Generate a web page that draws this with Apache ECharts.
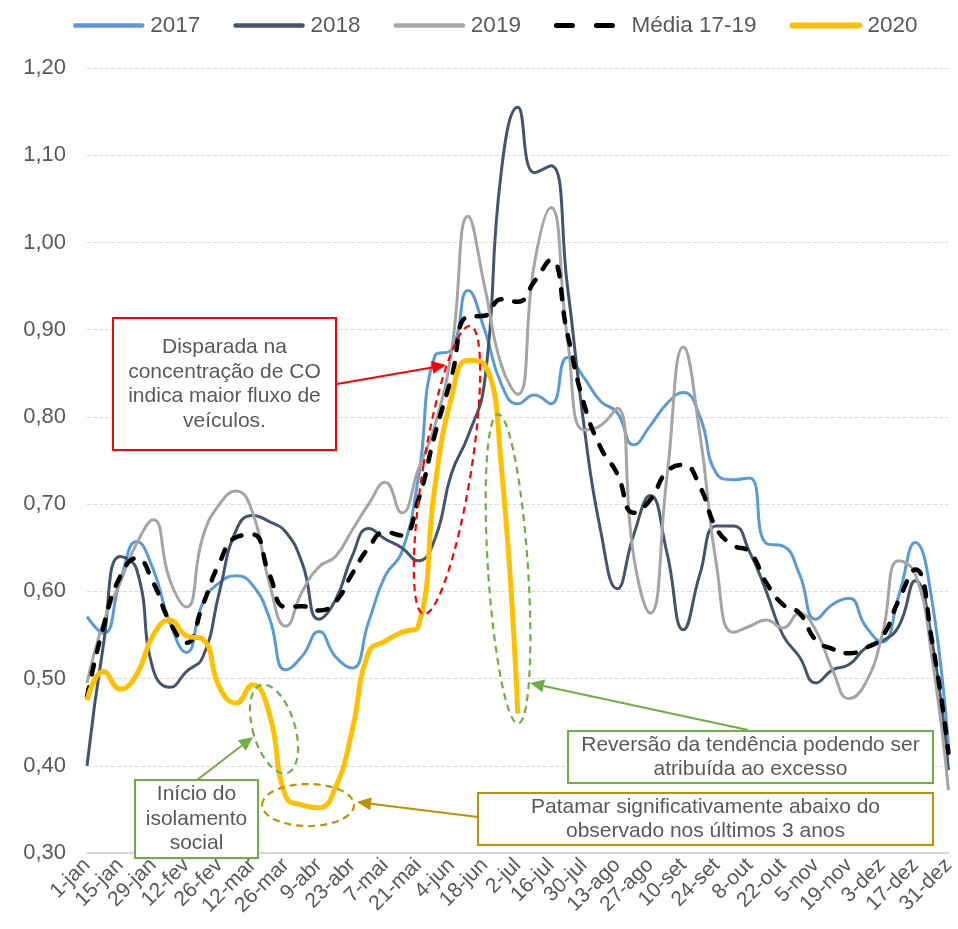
<!DOCTYPE html>
<html>
<head>
<meta charset="utf-8">
<script src="https://cdn.jsdelivr.net/npm/echarts@6/dist/echarts.min.js"></script>
<style>
html,body{margin:0;padding:0;background:#fff;}
#chart{width:958px;height:929px;}
</style>
</head>
<body>
<div id="chart"></div>
<script>
// ---------- data ----------
const categories = ['1-jan','8-jan','15-jan','22-jan','29-jan','5-fev','12-fev','19-fev','26-fev','5-mar','12-mar','19-mar','26-mar','2-abr','9-abr','16-abr','23-abr','30-abr','7-mai','14-mai','21-mai','28-mai','4-jun','11-jun','18-jun','25-jun','2-jul','9-jul','16-jul','23-jul','30-jul','6-ago','13-ago','20-ago','27-ago','3-set','10-set','17-set','24-set','1-out','8-out','15-out','22-out','29-out','5-nov','12-nov','19-nov','26-nov','3-dez','10-dez','17-dez','24-dez','31-dez'];

const s2017 = [0.571,0.552,0.612,0.657,0.625,0.564,0.530,0.587,0.610,0.618,
               0.607,0.570,0.510,0.526,0.554,0.525,0.512,0.565,0.618,0.645,
               0.730,0.870,0.877,0.945,0.900,0.838,0.815,0.825,0.815,0.868,
               0.845,0.818,0.805,0.768,0.790,0.815,0.828,0.800,0.735,0.728,
               0.730,0.655,0.652,0.620,0.568,0.585,0.592,0.560,0.542,0.595,
               0.656,0.590,0.420];
const s2018 = [0.400,0.540,0.640,0.625,0.510,0.490,0.508,0.525,0.600,0.670,
               0.687,0.680,0.668,0.632,0.568,0.590,0.640,0.672,0.660,0.650,
               0.635,0.660,0.735,0.778,0.840,1.080,1.155,1.080,1.088,0.950,
               0.790,0.670,0.603,0.665,0.710,0.645,0.556,0.620,0.675,0.675,
               0.645,0.600,0.550,0.525,0.495,0.510,0.516,0.535,0.543,0.560,
               0.612,0.544,0.395];
const s2019 = [0.495,0.565,0.610,0.655,0.682,0.613,0.582,0.663,0.700,0.715,
               0.690,0.610,0.560,0.600,0.628,0.640,0.670,0.700,0.725,0.690,
               0.740,0.790,0.875,1.030,0.950,0.860,0.826,0.975,1.040,0.890,
               0.785,0.790,0.810,0.640,0.575,0.730,0.880,0.780,0.630,0.553,
               0.560,0.567,0.558,0.575,0.555,0.510,0.477,0.495,0.550,0.635,
               0.620,0.525,0.372];
const sMedia = [0.479,0.560,0.617,0.638,0.610,0.565,0.541,0.585,0.633,0.662,
                0.665,0.620,0.582,0.583,0.578,0.588,0.620,0.650,0.668,0.664,
                0.705,0.780,0.845,0.915,0.916,0.935,0.932,0.955,0.980,0.895,
                0.815,0.765,0.735,0.690,0.705,0.737,0.745,0.720,0.672,0.653,
                0.645,0.610,0.585,0.575,0.544,0.534,0.529,0.535,0.548,0.590,
                0.625,0.544,0.415];
const s2020 = [0.475,0.508,0.488,0.505,0.550,0.567,0.549,0.545,0.490,0.472,
               0.493,0.460,0.365,0.355,0.352,0.375,0.440,0.530,0.543,0.553,
               0.560,0.720,0.822,0.865,0.860,0.745,0.460];

const seriesNames = ['2017','2018','2019','Média 17-19','2020'];
const yTicks = {min:0.3, max:1.2, interval:0.1};

// ---------- styles ----------
const FONT = '"Liberation Sans", Arial, sans-serif';
const TXT = '#595959';
const COLORS = ['#5B9BD5','#44546A','#A5A5A5','#000000','#FFC000'];

function arrow(x1,y1,x2,y2,color){
  const a = Math.atan2(y2-y1,x2-x1), L=14, W=6.5;
  const bx = x2 - L*Math.cos(a), by = y2 - L*Math.sin(a);
  return [
    {type:'line', shape:{x1:x1,y1:y1,x2:bx,y2:by}, style:{stroke:color,lineWidth:2}, z:50},
    {type:'polygon', shape:{points:[[x2,y2],[bx+W*Math.sin(a),by-W*Math.cos(a)],[bx-W*Math.sin(a),by+W*Math.cos(a)]]}, style:{fill:color}, z:50}
  ];
}
function box(x,y,w,h,color,text){
  return [
    {type:'rect', shape:{x:x,y:y,width:w,height:h}, style:{fill:'#fff',stroke:color,lineWidth:2}, z:60},
    {type:'text', x:x+w/2, y:y+h/2, z:61,
     style:{text:text, font:'21px '+FONT, fill:TXT, align:'center', verticalAlign:'middle',
            textAlign:'center', textVerticalAlign:'middle', lineHeight:24.5}}
  ];
}
function ell(cx,cy,rx,ry,rot,color){
  return {type:'ellipse', x:cx, y:cy, rotation:rot, shape:{cx:0,cy:0,rx:rx,ry:ry},
          style:{fill:null, stroke:color, lineWidth:2.2, lineDash:[7,5]}, z:40};
}

const RED='#FF0000', GREEN='#70AD47', GOLD='#BF9000';
const graphics = [].concat(
  [ell(447,470,24,146,-0.16,RED)],
  arrow(337,384,446,365,RED),
  box(113,318,223,132,RED,'Disparada na\nconcentração de CO\nindica maior fluxo de\nveículos.'),
  [ell(274,729,21,46,0.29,GREEN)],
  arrow(197,780,253,737,GREEN),
  box(135,780,123,78,GREEN,'Início do\nisolamento\nsocial'),
  [ell(308,805,46,21,0,GOLD)],
  arrow(478,817,357,802,GOLD),
  box(478,793,455,52,GOLD,'Patamar significativamente abaixo do\nobservado nos últimos 3 anos'),
  [ell(508,569,20,155,0.065,GREEN)],
  arrow(748,730,530,683,GREEN),
  box(568,731,365,52,GREEN,'Reversão da tendência podendo ser\natribuída ao excesso')
);

const legendData = seriesNames.map((n,i)=>({
  name:n,
  itemStyle:{opacity:0},
  lineStyle: i===3 ? {color:COLORS[i], width:5, type:[16,24], cap:'round'}
                   : {color:COLORS[i], width: i===4 ? 6 : 4.5, cap:'round', type:'solid'}
}));

const chart = echarts.init(document.getElementById('chart'), null, {renderer:'canvas'});
const lineBase = {type:'line', smooth:0.5, symbol:'none', showSymbol:false, connectNulls:false};
chart.setOption({
  animation:false,
  backgroundColor:'#fff',
  textStyle:{fontFamily:FONT},
  legend:{
    top:9, left:68, itemWidth:67, itemHeight:2, itemGap:33,
    textStyle:{fontSize:22.5, color:TXT, fontFamily:FONT, padding:[0,0,0,3]},
    data:legendData
  },
  grid:{left:87, right:8, top:68, bottom:76, containLabel:false},
  xAxis:{
    type:'category', data:categories, boundaryGap:false,
    axisLine:{lineStyle:{color:'#D0D0D0', width:1.5}},
    axisTick:{show:false},
    axisLabel:{interval:1, rotate:45, color:TXT, fontSize:21, fontFamily:FONT, margin:9},
    splitLine:{show:false}
  },
  yAxis:{
    type:'value', min:yTicks.min, max:yTicks.max, interval:yTicks.interval,
    axisLine:{show:false}, axisTick:{show:false},
    axisLabel:{color:TXT, fontSize:22, fontFamily:FONT, margin:21,
      formatter:v=>v.toFixed(2).replace('.',',')},
    splitLine:{lineStyle:{color:'#DDDDDD', width:1, type:[4,2]}}
  },
  series:[
    Object.assign({}, lineBase, {name:seriesNames[0], data:s2017, lineStyle:{color:COLORS[0], width:3}, itemStyle:{color:COLORS[0]}, z:2}),
    Object.assign({}, lineBase, {name:seriesNames[1], data:s2018, lineStyle:{color:COLORS[1], width:3}, itemStyle:{color:COLORS[1]}, z:2}),
    Object.assign({}, lineBase, {name:seriesNames[2], data:s2019, lineStyle:{color:COLORS[2], width:3}, itemStyle:{color:COLORS[2]}, z:2}),
    Object.assign({}, lineBase, {name:seriesNames[3], data:sMedia, lineStyle:{color:COLORS[3], width:4.5, type:[10,13], cap:'round'}, itemStyle:{color:COLORS[3]}, z:3}),
    Object.assign({}, lineBase, {name:seriesNames[4], data:s2020, lineStyle:{color:COLORS[4], width:5}, itemStyle:{color:COLORS[4]}, z:4})
  ],
  graphic:graphics
});
</script>
</body>
</html>
